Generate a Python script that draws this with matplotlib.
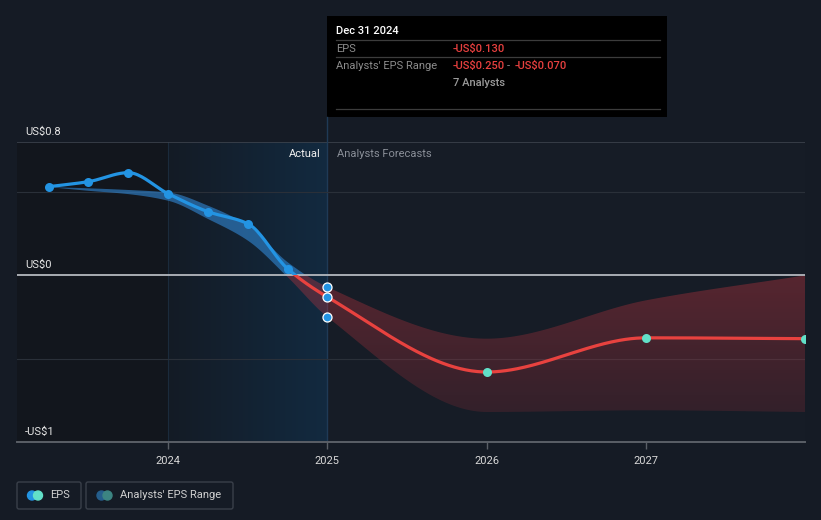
import numpy as np
import matplotlib
matplotlib.use("Agg")
import matplotlib.pyplot as plt
from matplotlib.patches import Rectangle, FancyBboxPatch, Circle
import matplotlib.transforms as mtransforms

plt.rcParams['font.family'] = ['Roboto', 'DejaVu Sans']

# ---------------- data ----------------
hist_x = [2023.25, 2023.5, 2023.75, 2024.0, 2024.25, 2024.5, 2024.75, 2025.0]
hist_eps = [0.532, 0.562, 0.616, 0.49, 0.382, 0.31, 0.04, -0.13]
hist_hi = [0.532, 0.525, 0.515, 0.50, 0.42, 0.30, 0.08, -0.07]
hist_lo = [0.532, 0.51, 0.49, 0.45, 0.34, 0.21, -0.01, -0.25]

fc_x = [2025.0, 2026.0, 2027.0, 2028.0]
fc_eps = [-0.13, -0.58, -0.375, -0.38]
fc_hi = [-0.07, -0.38, -0.15, 0.0]
fc_lo = [-0.25, -0.82, -0.81, -0.82]

tip_points = [-0.07, -0.13, -0.25]  # high, EPS, low at Dec 31 2024
tip_x = 2025.0

year_ticks = [2024, 2025, 2026, 2027]
y_labels = {0.8: "US$0.8", 0.0: "US$0", -1.0: "-US$1"}

# ---------------- helpers ----------------
def pchip(x, y, n=400):
    x = np.asarray(x, float); y = np.asarray(y, float)
    h = np.diff(x); d = np.diff(y) / h
    m = np.zeros_like(y)
    for k in range(1, len(y) - 1):
        if d[k - 1] * d[k] <= 0:
            m[k] = 0.0
        else:
            w1 = 2 * h[k] + h[k - 1]; w2 = h[k] + 2 * h[k - 1]
            m[k] = (w1 + w2) / (w1 / d[k - 1] + w2 / d[k])
    m[0] = d[0]; m[-1] = d[-1]
    xs = np.linspace(x[0], x[-1], n)
    ys = np.empty_like(xs)
    for i, xv in enumerate(xs):
        k = min(np.searchsorted(x, xv, side='right') - 1, len(x) - 2)
        t = (xv - x[k]) / h[k]
        h00 = 2 * t**3 - 3 * t**2 + 1; h10 = t**3 - 2 * t**2 + t
        h01 = -2 * t**3 + 3 * t**2; h11 = t**3 - t**2
        ys[i] = h00 * y[k] + h10 * h[k] * m[k] + h01 * y[k + 1] + h11 * h[k] * m[k + 1]
    return xs, ys

W, H = 821, 520
fig = plt.figure(figsize=(W / 100, H / 100), dpi=100)
fig.patch.set_facecolor('#151b25')

XMIN, XMAX, YMIN, YMAX = 2023.052, 2027.998, -1.0, 0.8
ax = fig.add_axes([17 / W, 1 - 442 / H, 788 / W, 300 / H])
ax.set_xlim(XMIN, XMAX); ax.set_ylim(YMIN, YMAX)
ax.set_facecolor('#161c26')
for s in ax.spines.values():
    s.set_visible(False)

# background regions
ax.axvspan(XMIN, 2024.0, color='#12161d', zorder=0, lw=0)
grad = np.linspace(0, 1, 256).reshape(1, -1)
c0 = np.array([0x14, 0x1b, 0x25]) / 255; c1 = np.array([0x12, 0x2a, 0x40]) / 255
img = c0[None, None, :] * (1 - grad[..., None]) + c1[None, None, :] * grad[..., None]
ax.imshow(img, extent=[2024.0, 2025.0, YMIN, YMAX], aspect='auto', zorder=0.5, interpolation='bilinear')
ax.axvline(2024.0, color='#1b2b3c', lw=0.8, zorder=0.6)
ax.axvline(2025.0, color='#1f3a56', lw=1.0, zorder=0.6)

# grid
for gy in (0.5, -0.5):
    ax.axhline(gy, color='#2a3039', lw=0.8, zorder=1)
ax.axhline(0.8, color='#3c424c', lw=1.2, zorder=1)
ax.axhline(-1.0, color='#5a5f67', lw=1.4, zorder=1, clip_on=False)

# combined series
all_x = hist_x + fc_x[1:]
all_hi = hist_hi + fc_hi[1:]
all_lo = hist_lo + fc_lo[1:]
all_eps = hist_eps + fc_eps[1:]

bx, bhi = pchip(all_x, all_hi)
_, blo = pchip(all_x, all_lo)

above = Rectangle((XMIN, 0), XMAX - XMIN, YMAX, transform=ax.transData)
below = Rectangle((XMIN, YMIN), XMAX - XMIN, -YMIN, transform=ax.transData)

# blue part of band
fb = ax.fill_between(bx, blo, bhi, color='#2f80c8', alpha=0.65, lw=0, zorder=2)
fb.set_clip_path(above)

# red gradient band
poly = ax.fill_between(bx, blo, bhi, color='none', lw=0, zorder=2)
path = poly.get_paths()[0]
gy = np.linspace(1, 0, 256).reshape(-1, 1)
rgba = np.zeros((256, 1, 4))
rgba[..., 0] = 0.82; rgba[..., 1] = 0.22; rgba[..., 2] = 0.26
rgba[..., 3] = (0.15 + 0.20 * gy)[..., 0][:, None].repeat(1, axis=1)
im = ax.imshow(rgba, extent=[XMIN, XMAX, -0.85, 0.0], aspect='auto', zorder=2, interpolation='bilinear')
from matplotlib.patches import PathPatch
pp = PathPatch(path, transform=ax.transData, facecolor='none', edgecolor='none')
ax.add_patch(pp)
im.set_clip_path(pp)

# EPS line
lx, ly = pchip(all_x, all_eps)
l1, = ax.plot(lx, ly, color='#2394e3', lw=2.3, zorder=4, solid_capstyle='round')
l1.set_clip_path(above)
l2, = ax.plot(lx, ly, color='#e8423f', lw=2.3, zorder=4, solid_capstyle='round')
l2.set_clip_path(below)

# markers
ax.plot(hist_x[:-1], hist_eps[:-1], 'o', color='#2394e3', ms=6.5, mec='none', zorder=5)
ax.plot(fc_x[1:], fc_eps[1:], 'o', color='#62e0c8', ms=6.5, mec='none', zorder=5)
ax.plot([tip_x] * len(tip_points), tip_points, 'o', color='#2394e3', ms=6.5, mec='white', mew=0.9,
        zorder=6, clip_on=False)

# zero line
ax.axhline(0.0, color='#b4b8be', lw=1.3, zorder=3)

# ticks
ax.set_yticks([])
ax.set_xticks(year_ticks)
ax.set_xticklabels([str(t) for t in year_ticks])
ax.tick_params(axis='x', length=5, width=1, color='#5a5f67', labelcolor='#d8d8d8', labelsize=8, pad=5)

trans = mtransforms.blended_transform_factory(ax.transAxes, ax.transData)
for val, lab in y_labels.items():
    ax.annotate(lab, xy=(0, val), xycoords=trans, xytext=(8, 5), textcoords='offset pixels',
                color='#e6e6e6', fontsize=8, va='bottom', ha='left', annotation_clip=False)

ax.annotate('Actual', xy=(2025.0, YMAX), xytext=(-7, -12), textcoords='offset pixels',
            color='#f0f0f0', fontsize=8, ha='right', va='center')
ax.annotate('Analysts Forecasts', xy=(2025.0, YMAX), xytext=(10, -12), textcoords='offset pixels',
            color='#8a8f98', fontsize=8, ha='left', va='center')

# ---------------- overlay (pixel coords) ----------------
ov = fig.add_axes([0, 0, 1, 1], zorder=10)
ov.set_xlim(0, W); ov.set_ylim(H, 0); ov.axis('off')
ov.patch.set_alpha(0)

ov.plot([327, 327], [117, 142], color='#1f3a56', lw=1.0)
ov.add_patch(Rectangle((327, 16), 340, 101, facecolor='#000000', edgecolor='none'))
for yy in (40, 57, 109):
    ov.plot([336, 660], [yy, yy], color='#3c3c3c', lw=0.9)
ov.text(336, 31, 'Dec 31 2024', color='#ffffff', fontsize=8, va='center', ha='left', fontweight='medium')
ov.text(336, 49, 'EPS', color='#8c8c8c', fontsize=8, va='center')
ov.text(453, 49, '-US$0.130', color='#e8403f', fontsize=8, va='center', fontweight='medium')
ov.text(336, 66, "Analysts' EPS Range", color='#8c8c8c', fontsize=8, va='center')
ov.text(453, 66, '-US$0.250', color='#e8403f', fontsize=8, va='center', fontweight='medium')
ov.text(507, 66, '-', color='#8c8c8c', fontsize=8, va='center')
ov.text(515, 66, '-US$0.070', color='#e8403f', fontsize=8, va='center', fontweight='medium')
ov.text(453, 83, '7 Analysts', color='#9a9a9a', fontsize=8, va='center', fontweight='medium')

# legend
ov.add_patch(FancyBboxPatch((17, 482), 64, 27, boxstyle='round,pad=0,rounding_size=2',
                            facecolor='none', edgecolor='#3a404a', lw=1))
ov.add_patch(FancyBboxPatch((86, 482), 147, 27, boxstyle='round,pad=0,rounding_size=2',
                            facecolor='none', edgecolor='#3a404a', lw=1))
ov.add_patch(Circle((32, 495.5), 4.5, color='#2394e3'))
ov.add_patch(Circle((38, 495.5), 4.5, color='#62e0c8'))
ov.text(50, 495.5, 'EPS', color='#d0d0d0', fontsize=8, va='center')
ov.add_patch(Circle((101.5, 495.5), 4.5, color='#255e8c'))
ov.add_patch(Circle((107.5, 495.5), 4.5, color='#3c8582'))
ov.text(120, 495.5, "Analysts' EPS Range", color='#d0d0d0', fontsize=8, va='center')

fig.savefig('out.png', dpi=100, facecolor=fig.get_facecolor())
